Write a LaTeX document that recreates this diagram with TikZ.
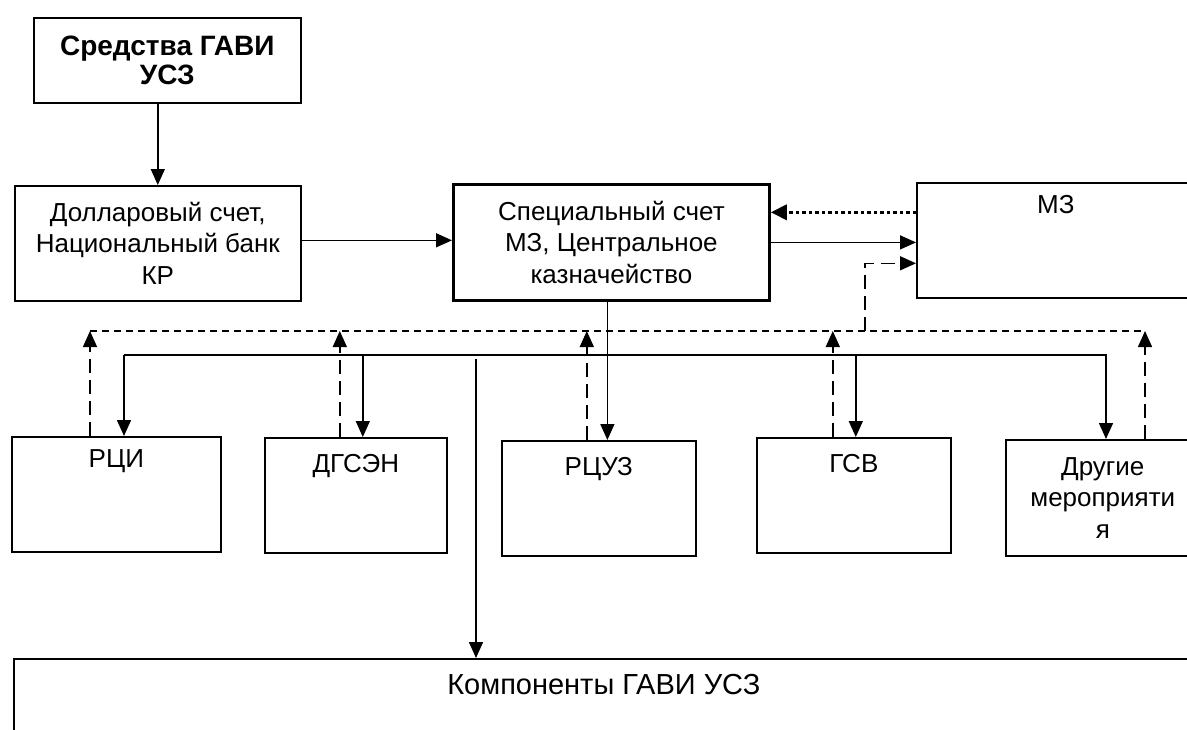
\documentclass[tikz,border=0pt]{standalone}
\usepackage{fontspec}
\setmainfont{Liberation Sans}
\usetikzlibrary{arrows.meta, positioning}

\begin{document}
\begin{tikzpicture}[
    x=1pt, y=-1pt,
    every node/.style={font=\fontsize{26}{31.5}\selectfont},
    box/.style={draw, line width=1.6pt, align=center, anchor=north west, inner sep=0pt},
    topbox/.style={box, text height=35pt, text depth=80pt},
    arr/.style={-{Triangle[length=16pt, width=14pt]}, line width=1.5pt},
    dsh/.style={line width=1.5pt, dash pattern=on 7pt off 5pt},
    dsharr/.style={arr, dash pattern=on 14pt off 7pt},
    dotarr/.style={-{Triangle[length=16pt, width=15pt]}, line width=3.5pt, dash pattern=on 3.5pt off 3pt}
  ]
  \useasboundingbox (0,0) rectangle (1187,729);
  \clip (0,0) rectangle (1187,729);

  % funding chain
  \node[box, font=\bfseries\fontsize{28}{29}\selectfont, minimum width=267pt, minimum height=85pt] (src) at (33,17) {Средства ГАВИ\\УСЗ};
  \node[box, minimum width=286pt, minimum height=115pt] (usd) at (14,185) {Долларовый счет,\\Национальный банк\\КР};
  \node[box, line width=2.8pt, minimum width=316pt, minimum height=116pt] (spec) at (452,183) {Специальный счет\\МЗ, Центральное\\казначейство};
  \node[topbox, text height=31pt, text depth=84pt, minimum width=278pt] (mz) at (916,182) {МЗ};
  \draw[arr] (src.south -| usd.north) -- (usd.north);
  \draw[arr] ([yshift=3pt]usd.east) -- ([yshift=3pt]usd.east -| spec.west);
  \draw[dotarr] ([yshift=28pt]mz.west) -- ([yshift=28pt]mz.west -| spec.east);
  \draw[arr] (spec.east) -- (spec.east -| mz.west);

  % recipients
  \node[topbox, text height=31pt, text depth=84pt, minimum width=209pt] (rci) at (11,436) {РЦИ};
  \node[topbox, minimum width=182pt] (dgsen) at (264,437) {ДГСЭН};
  \node[topbox, minimum width=194pt] (rcuz) at (501,440) {РЦУЗ};
  \node[topbox, minimum width=194pt] (gsv) at (756,437) {ГСВ};
  \node[box, minimum width=194pt, minimum height=116pt] (other) at (1005,439) {Другие\\мероприяти\\я};
  \node[topbox, font=\fontsize{29}{34}\selectfont, text height=36pt, minimum width=1180pt] (comp) at (13,658) {Компоненты ГАВИ УСЗ};

  \coordinate (busL) at (124,355);
  \coordinate (busR) at (1106,355);
  \coordinate (tap) at (476,359);
  \coordinate (dashL) at (90,331);
  \coordinate (dashR) at (1145,331);
  \coordinate (dashM) at (865,331);

  % money flow
  \draw[arr] (busL) -- (busL |- rci.north);
  \draw[arr] (busL) -- (busR) -- (busR |- other.north);
  \draw[arr] ([xshift=7pt]dgsen.north |- busL) -- ([xshift=7pt]dgsen.north);
  \draw[arr] ([xshift=2pt]gsv.north |- busL) -- ([xshift=2pt]gsv.north);
  \draw[arr] ([xshift=-4pt]spec.south) -- ([xshift=-4pt]spec.south |- rcuz.north);
  \draw[arr] (tap) -- (tap |- comp.north);

  % reporting
  \draw[dsh] (dashL) -- (dashR);
  \draw[dsharr] (dashM) |- ([yshift=-23pt]mz.west);
  \draw[dsharr] (rci.north -| dashL) -- (dashL);
  \draw[dsharr] ([xshift=-16pt]dgsen.north) -- ([xshift=-16pt]dgsen.north |- dashL);
  \draw[dsharr] ([xshift=-12pt]rcuz.north) -- ([xshift=-12pt]rcuz.north |- dashL);
  \draw[dsharr] ([xshift=-21pt]gsv.north) -- ([xshift=-21pt]gsv.north |- dashL);
  \draw[dsharr] (other.north -| dashR) -- (dashR);
\end{tikzpicture}
\end{document}
